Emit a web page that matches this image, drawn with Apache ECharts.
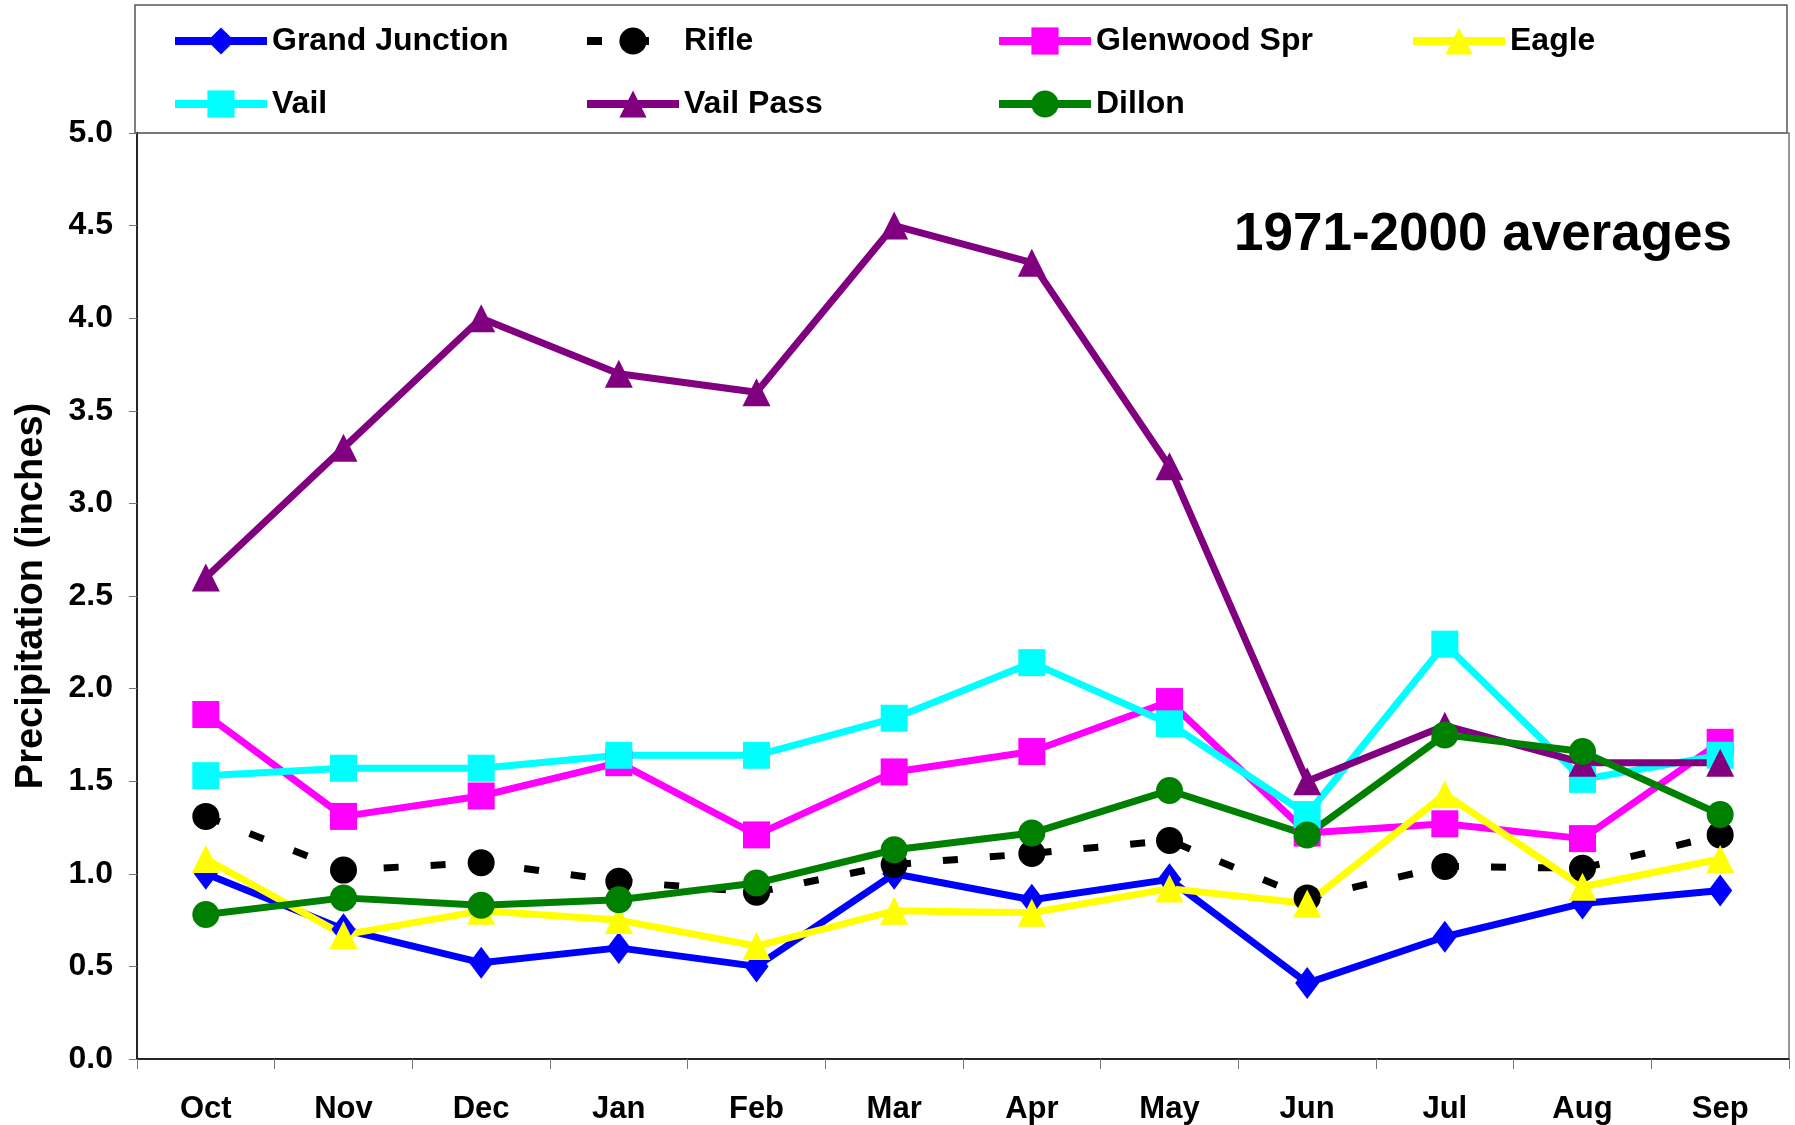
<!DOCTYPE html>
<html>
<head>
<meta charset="utf-8">
<script src="https://cdn.jsdelivr.net/npm/echarts@6/dist/echarts.min.js"></script>
<style>
html,body{margin:0;padding:0;background:#fff;}
#chart{width:1795px;height:1125px;}
</style>
</head>
<body>
<div id="chart"></div>
<script>
const months = ['Oct','Nov','Dec','Jan','Feb','Mar','Apr','May','Jun','Jul','Aug','Sep'];
const yTicks = [0, 0.5, 1.0, 1.5, 2.0, 2.5, 3.0, 3.5, 4.0, 4.5, 5.0];
const grandJunction = [1.0, 0.70, 0.52, 0.60, 0.50, 1.0, 0.86, 0.97, 0.41, 0.66, 0.84, 0.91];
const rifle        = [1.31, 1.02, 1.06, 0.96, 0.90, 1.05, 1.11, 1.18, 0.87, 1.04, 1.03, 1.21];
const glenwoodSpr  = [1.86, 1.31, 1.42, 1.60, 1.21, 1.55, 1.66, 1.93, 1.22, 1.27, 1.19, 1.71];
const eagle        = [1.08, 0.67, 0.80, 0.75, 0.61, 0.80, 0.79, 0.92, 0.84, 1.43, 0.93, 1.08];
const vail         = [1.53, 1.57, 1.57, 1.64, 1.64, 1.84, 2.14, 1.81, 1.32, 2.24, 1.51, 1.64];
const vailPass     = [2.6, 3.3, 4.0, 3.7, 3.6, 4.5, 4.3, 3.2, 1.5, 1.8, 1.6, 1.6];
const dillon       = [0.78, 0.87, 0.83, 0.86, 0.95, 1.13, 1.22, 1.45, 1.21, 1.75, 1.66, 1.32];
const seriesNames = ['Grand Junction','Rifle','Glenwood Spr','Eagle','Vail','Vail Pass','Dillon'];

const FONT = '"Liberation Sans", Arial, sans-serif';
const chart = echarts.init(document.getElementById('chart'), null, {renderer:'canvas'});

const specs = [
  {name: seriesNames[0], data: grandJunction, color:'#0000FF', symbol:'diamond', size:[24,32], dash:'solid'},
  {name: seriesNames[1], data: rifle, color:'#000000', symbol:'circle', size:27, dash:[15,32]},
  {name: seriesNames[2], data: glenwoodSpr, color:'#FF00FF', symbol:'rect', size:27, dash:'solid'},
  {name: seriesNames[3], data: eagle, color:'#FFFF00', symbol:'triangle', size:28, dash:'solid'},
  {name: seriesNames[4], data: vail, color:'#00FFFF', symbol:'rect', size:27, dash:'solid'},
  {name: seriesNames[5], data: vailPass, color:'#800080', symbol:'triangle', size:28, dash:'solid'},
  {name: seriesNames[6], data: dillon, color:'#008000', symbol:'circle', size:27, dash:'solid'}
];

const legendPos = [
  [171, 24], [583, 24], [995, 24], [1409, 24],
  [171, 87], [583, 87], [995, 87]
];

const legends = specs.map((s, i) => ({
  data: [s.name],
  left: legendPos[i][0],
  top: legendPos[i][1],
  padding: 0,
  itemWidth: 92,
  itemHeight: 34,
  selectedMode: false,
  lineStyle: {width: 8},
  textStyle: {fontFamily: FONT, fontWeight: 'bold', fontSize: 32, color: '#000', lineHeight: 34}
}));

const option = {
  animation: false,
  backgroundColor: '#fff',
  legend: legends,
  graphic: [
    {type:'rect', shape:{x:135, y:5, width:1652, height:128}, style:{fill:'none', stroke:'#555', lineWidth:1.5}, z:-1},
    {type:'text', left:1234, top:209, style:{text:'1971-2000 averages', font:'bold 53px "Liberation Sans", Arial, sans-serif', fill:'#000'}}
  ],
  grid: {left:137, right:6, top:133, bottom:66, show:true, borderColor:'#777', borderWidth:1.5, backgroundColor:'transparent'},
  xAxis: {
    type:'category', data: months, boundaryGap: true,
    axisLine: {lineStyle:{color:'#000', width:1.5}},
    axisTick: {show:true, inside:false, length:10, lineStyle:{color:'#777', width:1}},
    axisLabel: {fontFamily: FONT, fontWeight:'bold', fontSize:31, color:'#000', margin:35}
  },
  yAxis: {
    type:'value', min: yTicks[0], max: yTicks[yTicks.length-1], interval: 0.5,
    name:'Precipitation (inches)', nameLocation:'middle', nameGap:86,
    nameTextStyle: {fontFamily: FONT, fontWeight:'bold', fontSize:38, color:'#000'},
    axisLine: {show:true, lineStyle:{color:'#000', width:1.5}},
    axisTick: {show:true, inside:false, length:8, lineStyle:{color:'#777', width:1}},
    splitLine: {show:false},
    axisLabel: {fontFamily: FONT, fontWeight:'bold', fontSize:32, color:'#000', margin:24,
      formatter: v => v.toFixed(1)}
  },
  series: specs.map(s => ({
    name: s.name, type:'line', data: s.data,
    symbol: s.symbol, symbolSize: s.size,
    itemStyle: {color: s.color},
    lineStyle: {color: s.color, width: 7, type: s.dash, cap:'butt'},
    emphasis: {disabled:true}
  }))
};
chart.setOption(option);
</script>
</body>
</html>
